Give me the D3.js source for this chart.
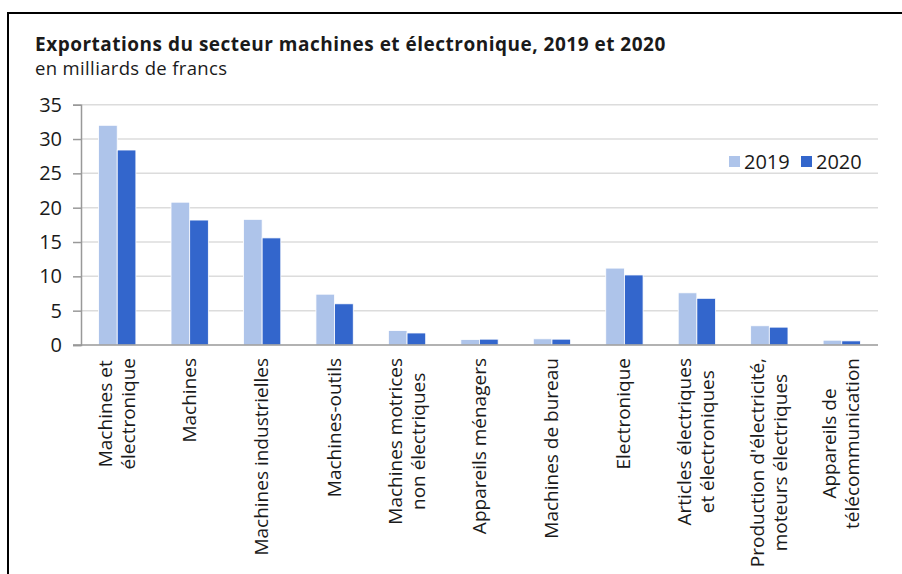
<!DOCTYPE html>
<html><head><meta charset="utf-8">
<script src="https://cdn.jsdelivr.net/npm/d3@7"></script>
<style>
body{margin:0;background:#fff;}
text{font-family:"Open Sans",sans-serif;fill:#1a1a1a;}
</style></head><body>
<svg id="c" width="902" height="574"></svg>
<script>
const categories = [
  ["Machines et","électronique"],
  ["Machines"],
  ["Machines industrielles"],
  ["Machines-outils"],
  ["Machines motrices","non électriques"],
  ["Appareils ménagers"],
  ["Machines de bureau"],
  ["Electronique"],
  ["Articles électriques","et électroniques"],
  ["Production d'électricité,","moteurs électriques"],
  ["Appareils de","télécommunication"]
];
const series = ["2019","2020"];
const values2019 = [32.0, 20.8, 18.3, 7.4, 2.1, 0.8, 0.9, 11.2, 7.6, 2.8, 0.7];
const values2020 = [28.4, 18.2, 15.6, 6.0, 1.75, 0.85, 0.85, 10.2, 6.8, 2.6, 0.6];
const yTicks = [0,5,10,15,20,25,30,35];
const colors = ["#aec4ea","#3366cc"];

const svg = d3.select("#c");
// frame
svg.append("line").attr("x1",7).attr("x2",902).attr("y1",13).attr("y2",13).attr("stroke","#000").attr("stroke-width",2);
svg.append("line").attr("x1",8).attr("x2",8).attr("y1",12).attr("y2",574).attr("stroke","#000").attr("stroke-width",2);

svg.append("text").attr("x",35).attr("y",50.5).style("font-weight","bold").style("font-size","19px").style("letter-spacing","0.5px").text("Exportations du secteur machines et électronique, 2019 et 2020");
svg.append("text").attr("x",35).attr("y",75).style("font-size","18.5px").style("letter-spacing","0.35px").text("en milliards de francs");

const pL=81, pR=878, pT=104.7, pB=345;
const x = d3.scaleBand().domain(d3.range(categories.length)).range([pL,pR]).paddingInner(0.485).paddingOuter(0.2425);
const xs = d3.scaleBand().domain(series).range([0,x.bandwidth()]);
const y = d3.scaleLinear().domain([0,35]).range([pB,pT]);

// grid
svg.append("g").selectAll("line").data(yTicks.filter(d=>d>0)).join("line")
  .attr("x1",pL).attr("x2",pR).attr("y1",d=>y(d)).attr("y2",d=>y(d))
  .attr("stroke","#dcdcdc").attr("stroke-width",1.5);

// y axis
const ya = svg.append("g").attr("transform",`translate(${pL},0)`).call(d3.axisLeft(y).tickValues(yTicks).tickSize(8).tickPadding(11));
ya.select(".domain").attr("stroke","#999").attr("stroke-width",1.5);
ya.selectAll(".tick line").attr("stroke","#999").attr("stroke-width",1.5);
ya.selectAll(".tick text").style("font-size","20px").style("font-family","Open Sans").attr("fill","#1a1a1a");

// bars
const data = categories.map((c,i)=>({i, v:[values2019[i],values2020[i]]}));
const g = svg.append("g").selectAll("g").data(data).join("g").attr("transform",d=>`translate(${x(d.i)},0)`);
g.selectAll("rect").data(d=>d.v.map((v,k)=>({k,v}))).join("rect")
  .attr("x",d=>xs(series[d.k])).attr("width",xs.bandwidth())
  .attr("y",d=>y(d.v)).attr("height",d=>pB-y(d.v))
  .attr("fill",d=>colors[d.k]).attr("stroke","#fff").attr("stroke-width",0.8);

// x axis line
svg.append("line").attr("x1",73).attr("x2",pR).attr("y1",pB).attr("y2",pB).attr("stroke","#999").attr("stroke-width",1.5);

// category labels
const lineH = 23;
categories.forEach((lines,i)=>{
  const cx = x(i)+x.bandwidth()/2;
  const grp = svg.append("g");
  const texts = lines.map((t,j)=>grp.append("text").style("font-size","19px").text(t));
  const maxLen = d3.max(texts, t=>t.node().getComputedTextLength());
  const n = lines.length;
  texts.forEach((t,j)=>{
    const off = (j-(n-1)/2)*lineH;
    const px = cx + off + 6;
    const py = 358 + maxLen/2;
    t.attr("text-anchor","middle").attr("transform",`translate(${px},${py}) rotate(-90)`);
  });
});

// legend
const lg = svg.append("g");
series.forEach((s,k)=>{
  const lx = [729,801][k];
  lg.append("rect").attr("x",lx).attr("y",156).attr("width",11).attr("height",11).attr("fill",colors[k]);
  lg.append("text").attr("x",lx+15).attr("y",169).style("font-size","20px").text(s);
});
</script></body></html>
